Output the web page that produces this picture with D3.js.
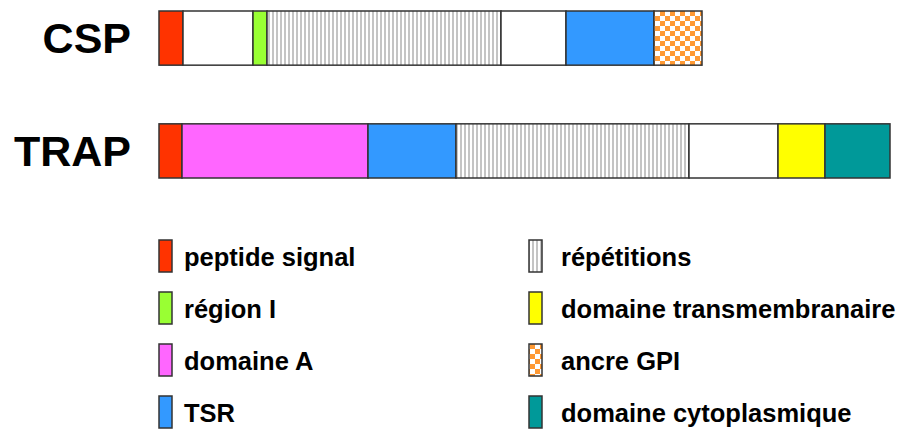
<html>

<head>
    <script src="https://d3js.org/d3.v7.min.js"></script>
    <style>
        body { margin: 0; background: white; }
        text { font-family: "Liberation Sans", Arial, sans-serif; font-weight: bold; fill: #000; }
        .seg { stroke: #333; stroke-width: 1.5px; }
    </style>
</head>

<body>
    <svg id="chart" width="901" height="429"></svg>
    <script>
        // proteins and their domain lengths (in px-like units)
        const proteins = ["CSP", "TRAP"];
        const cspTypes = ["signal", "blank", "regionI", "repeats", "blank", "tsr", "gpi"];
        const cspLengths = [24, 70, 14, 234, 65, 88, 48];
        const trapTypes = ["signal", "domainA", "tsr", "repeats", "blank", "tm", "cyto"];
        const trapLengths = [23, 186, 88, 233, 89, 47, 65];

        // legend
        const legendLeft = ["signal", "regionI", "domainA", "tsr"];
        const legendLeftLabels = ["peptide signal", "région I", "domaine A", "TSR"];
        const legendRight = ["repeats", "tm", "gpi", "cyto"];
        const legendRightLabels = ["répétitions", "domaine transmembranaire", "ancre GPI", "domaine cytoplasmique"];

        const fills = {
            signal: "#ff3300",
            blank: "#ffffff",
            regionI: "#99ff33",
            repeats: "url(#stripes)",
            domainA: "#ff66ff",
            tsr: "#3399ff",
            tm: "#ffff00",
            gpi: "url(#checker)",
            cyto: "#009999"
        };

        const svg = d3.select("#chart");
        const defs = svg.append("defs");

        const stripes = defs.append("pattern")
            .attr("id", "stripes")
            .attr("patternUnits", "userSpaceOnUse")
            .attr("width", 4).attr("height", 4);
        stripes.append("rect").attr("width", 4).attr("height", 4).attr("fill", "white");
        stripes.append("rect").attr("width", 2).attr("height", 4).attr("fill", "#c4c4c4");

        const checker = defs.append("pattern")
            .attr("id", "checker")
            .attr("patternUnits", "userSpaceOnUse")
            .attr("width", 10).attr("height", 10);
        checker.append("rect").attr("width", 10).attr("height", 10).attr("fill", "white");
        checker.append("rect").attr("width", 5).attr("height", 5).attr("fill", "#ff9933");
        checker.append("rect").attr("x", 5).attr("y", 5).attr("width", 5).attr("height", 5).attr("fill", "#ff9933");

        const x = d3.scaleLinear().domain([0, d3.sum(trapLengths)]).range([159, 890]);
        const y = d3.scaleBand().domain(proteins).range([11, 178]).paddingInner(0.52);

        function segments(types, lengths) {
            let start = 0;
            return types.map((t, i) => {
                const s = { type: t, start: start, end: start + lengths[i] };
                start += lengths[i];
                return s;
            });
        }

        const rows = [
            { name: "CSP", segs: segments(cspTypes, cspLengths) },
            { name: "TRAP", segs: segments(trapTypes, trapLengths) }
        ];

        const bars = svg.selectAll("g.protein").data(rows)
            .join("g")
            .attr("class", "protein")
            .attr("transform", d => `translate(0,${y(d.name)})`);

        bars.selectAll("rect").data(d => d.segs)
            .join("rect")
            .attr("class", "seg")
            .attr("x", d => x(d.start))
            .attr("width", d => x(d.end) - x(d.start))
            .attr("height", y.bandwidth())
            .attr("fill", d => fills[d.type]);

        bars.append("text")
            .attr("x", 131)
            .attr("y", y.bandwidth() / 2 + 15)
            .attr("text-anchor", "end")
            .style("font-size", "43px")
            .text(d => d.name);

        // legend
        const rowY = d3.scalePoint().domain(d3.range(4)).range([240, 396]);

        function legendColumn(keys, labels, sx, tx) {
            const g = svg.append("g");
            const item = g.selectAll("g").data(keys)
                .join("g")
                .attr("transform", (d, i) => `translate(0,${rowY(i)})`);
            item.append("rect")
                .attr("class", "seg")
                .attr("x", sx)
                .attr("width", 13)
                .attr("height", 32)
                .attr("fill", d => fills[d]);
            item.append("text")
                .attr("x", tx)
                .attr("y", 26)
                .style("font-size", "25.5px")
                .text((d, i) => labels[i]);
        }

        legendColumn(legendLeft, legendLeftLabels, 159, 184);
        legendColumn(legendRight, legendRightLabels, 529, 561);
    </script>
</body>

</html>
